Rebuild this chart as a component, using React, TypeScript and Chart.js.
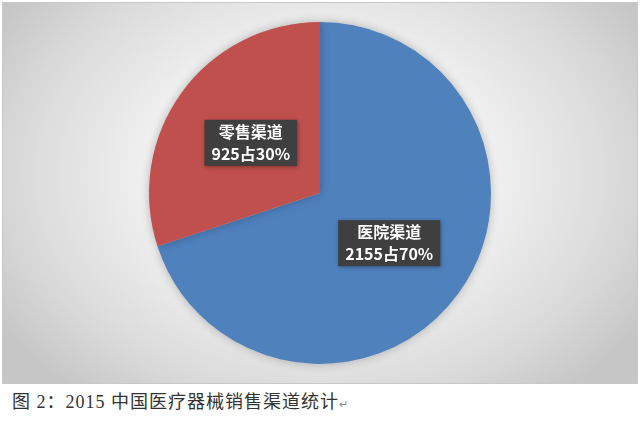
import React, { useEffect, useRef } from "react";
import { Chart, registerables } from "chart.js";

Chart.register(...registerables);

const categories = ["医院渠道", "零售渠道"];
const values = [2155, 925];
const percents = ["70%", "30%"];
const colors = ["#4f81bd", "#c0504d"];
const caption = "图 2：2015 中国医疗器械销售渠道统计";

const labelPlugin = {
  id: "boxLabels",
  afterDatasetsDraw(chart: any) {
    const ctx = chart.ctx;
    const meta = chart.getDatasetMeta(0);
    meta.data.forEach((arc: any, i: number) => {
      const mid = (arc.startAngle + arc.endAngle) / 2;
      const r = arc.outerRadius * 0.5;
      const cx = arc.x + Math.cos(mid) * r;
      const cy = arc.y + Math.sin(mid) * r;
      const line1 = categories[i];
      const line2 = `${values[i]}占${percents[i]}`;
      ctx.save();
      ctx.font = "bold 16px 'Noto Sans CJK SC', sans-serif";
      const w = Math.max(ctx.measureText(line1).width, ctx.measureText(line2).width) + 14;
      const h = 46;
      ctx.shadowColor = "rgba(0,0,0,0.35)";
      ctx.shadowBlur = 4;
      ctx.shadowOffsetX = 1;
      ctx.shadowOffsetY = 1;
      ctx.fillStyle = "#3f3f3f";
      ctx.fillRect(cx - w / 2, cy - h / 2, w, h);
      ctx.shadowColor = "transparent";
      ctx.fillStyle = "#ffffff";
      ctx.textAlign = "center";
      ctx.textBaseline = "middle";
      ctx.fillText(line1, cx, cy - 11);
      ctx.fillText(line2, cx, cy + 11);
      ctx.restore();
    });
  },
};

const shadowPlugin = {
  id: "pieShadow",
  beforeDatasetsDraw(chart: any) {
    chart.ctx.save();
    chart.ctx.shadowColor = "rgba(0,0,0,0.25)";
    chart.ctx.shadowBlur = 10;
  },
  afterDatasetsDraw(chart: any) {
    chart.ctx.restore();
  },
};

export default function App() {
  const ref = useRef<HTMLCanvasElement>(null);
  useEffect(() => {
    document.body.style.margin = "0";
    const chart = new Chart(ref.current as HTMLCanvasElement, {
      type: "pie",
      data: {
        labels: categories,
        datasets: [
          {
            data: values,
            backgroundColor: colors,
            borderWidth: 0,
          },
        ],
      },
      options: {
        animation: false,
        responsive: false,
        layout: { padding: { top: 19, bottom: 19 } },
        plugins: {
          legend: { display: false },
          tooltip: { enabled: false },
        },
      },
      plugins: [shadowPlugin, labelPlugin],
    });
    return () => chart.destroy();
  }, []);

  return (
    <div style={{ position: "relative", width: 640, height: 428, background: "#ffffff" }}>
      <div
        style={{
          position: "absolute",
          left: 2,
          top: 2,
          width: 634,
          height: 380,
          border: "1px solid #c8c8c8",
          background:
            "radial-gradient(ellipse 60% 75% at 50% 45%, #ffffff 0%, #f4f4f4 40%, #d9d9d9 80%, #c6c6c6 100%)",
        }}
      >
        <canvas ref={ref} width={634} height={380} style={{ display: "block" }} />
      </div>
      <div
        style={{
          position: "absolute",
          left: 12,
          top: 387,
          fontFamily: "'Liberation Serif', 'Noto Sans CJK SC', serif",
          fontSize: 18,
          color: "#333333",
          whiteSpace: "nowrap",
          letterSpacing: 1,
        }}
      >
        {caption}
        <span style={{ fontSize: 11, color: "#888" }}>↵</span>
      </div>
    </div>
  );
}
